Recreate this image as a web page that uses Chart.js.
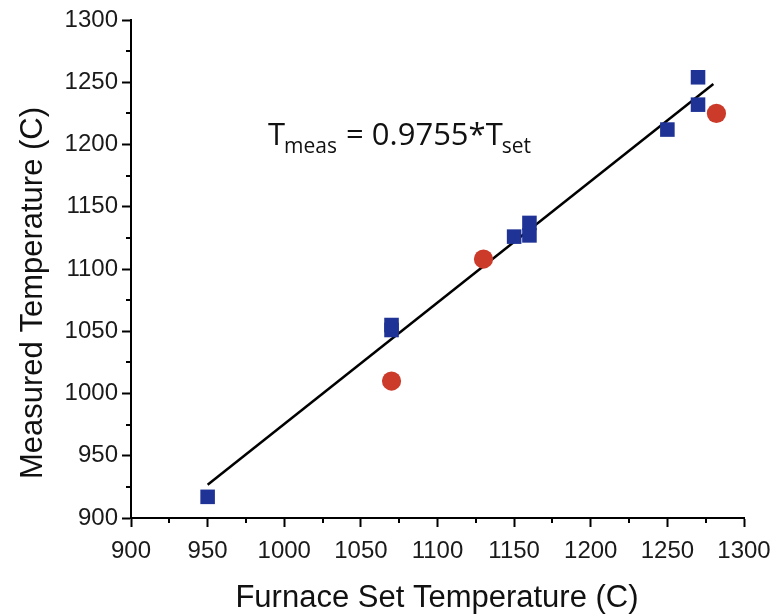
<!DOCTYPE html>
<html>
<head>
<meta charset="utf-8">
<script src="https://cdn.jsdelivr.net/npm/chart.js@4.4.0/dist/chart.umd.min.js"></script>
<style>
  html, body { margin: 0; padding: 0; background: #fff; }
  canvas { display: block; }
</style>
</head>
<body>
<canvas id="tempChart" width="775" height="616"></canvas>
<script>
// measured thermocouple readings vs furnace set point
const squareX = [950, 1070, 1070, 1150, 1160, 1160, 1250, 1270, 1270];
const squareY = [917, 1051, 1055, 1126, 1127, 1137, 1212, 1232, 1254];
const circleX = [1070, 1130, 1282];
const circleY = [1010, 1108, 1225];

// linear fit through the origin
const slope = 0.9755;
const fitX = [950, 1280];

const tickValues = [900, 950, 1000, 1050, 1100, 1150, 1200, 1250, 1300];

const toPoints = (xs, ys) => xs.map((x, i) => ({ x: x, y: ys[i] }));

const AXIS_FONT = '"Liberation Sans", Arial, sans-serif';

// short unlabelled ticks halfway between the major ones
const minorTicks = {
  id: 'minorTicks',
  afterDraw(chart) {
    const ctx = chart.ctx;
    const xs = chart.scales.x, ys = chart.scales.y;
    const area = chart.chartArea;
    ctx.save();
    ctx.strokeStyle = '#000';
    ctx.lineWidth = 2;
    ctx.beginPath();
    for (let i = 0; i < tickValues.length - 1; i++) {
      const v = (tickValues[i] + tickValues[i + 1]) / 2;
      const px = Math.round(xs.getPixelForValue(v));
      ctx.moveTo(px, area.bottom);
      ctx.lineTo(px, area.bottom + 5);
      const py = Math.round(ys.getPixelForValue(v));
      ctx.moveTo(area.left, py);
      ctx.lineTo(area.left - 5, py);
    }
    ctx.stroke();
    ctx.restore();
  }
};

// axis titles and the fit equation
const annotations = {
  id: 'annotations',
  afterDraw(chart) {
    const ctx = chart.ctx;
    ctx.save();
    ctx.fillStyle = '#111';
    ctx.font = '31px ' + AXIS_FONT;
    ctx.textAlign = 'center';
    ctx.textBaseline = 'alphabetic';
    ctx.fillText('Furnace Set Temperature (C)', 437, 607);

    ctx.save();
    ctx.translate(42, 293);
    ctx.rotate(-Math.PI / 2);
    ctx.fillText('Measured Temperature (C)', 0, 0);
    ctx.restore();

    const big = '31px "Open Sans", sans-serif';
    const small = '21px "Open Sans", sans-serif';
    const base = 145;
    let x = 268;
    ctx.textAlign = 'left';
    ctx.font = big;
    ctx.fillText('T', x, base);
    x += ctx.measureText('T').width - 1;
    ctx.font = small;
    ctx.fillText('meas', x, base + 8);
    x += ctx.measureText('meas').width + 1;
    ctx.font = big;
    const mid = ' = 0.9755*T';
    ctx.fillText(mid, x, base);
    x += ctx.measureText(mid).width - 1;
    ctx.font = small;
    ctx.fillText('set', x, base + 8);
    ctx.restore();
  }
};

const axisOptions = {
  type: 'linear',
  min: 900,
  max: 1300,
  afterBuildTicks: s => { s.ticks = tickValues.map(v => ({ value: v })); },
  border: { display: true, color: '#000', width: 2 },
  grid: {
    drawOnChartArea: false,
    drawTicks: true,
    tickLength: 9,
    tickWidth: 2,
    tickColor: '#000'
  },
  ticks: {
    color: '#1a1a1a',
    font: { family: AXIS_FONT, size: 24 },
    maxRotation: 0,
    callback: v => String(v)
  }
};

new Chart('tempChart', {
  type: 'scatter',
  data: {
    datasets: [
      {
        label: 'fit',
        type: 'line',
        data: fitX.map(x => ({ x: x, y: slope * x })),
        borderColor: '#000',
        borderWidth: 2.5,
        pointRadius: 0,
        fill: false,
        order: 3
      },
      {
        label: 'squares',
        data: toPoints(squareX, squareY),
        pointStyle: 'rect',
        pointRadius: 10.3,
        backgroundColor: '#1f3396',
        borderWidth: 0,
        order: 1
      },
      {
        label: 'circles',
        data: toPoints(circleX, circleY),
        pointStyle: 'circle',
        pointRadius: 9.6,
        backgroundColor: '#cc3a2a',
        borderWidth: 0,
        order: 2
      }
    ]
  },
  options: {
    responsive: false,
    devicePixelRatio: 1,
    animation: false,
    layout: { padding: { top: 20, right: 31, left: 0, bottom: 0 } },
    plugins: {
      legend: { display: false },
      tooltip: { enabled: false }
    },
    scales: {
      x: Object.assign({}, axisOptions, {
        position: 'bottom',
        ticks: Object.assign({}, axisOptions.ticks, { padding: 10 }),
        afterFit: s => {
          s.height = 98;
          s.paddingLeft = 0;
          s.paddingRight = 0;
        }
      }),
      y: Object.assign({}, axisOptions, {
        position: 'left',
        ticks: Object.assign({}, axisOptions.ticks, { padding: 4 }),
        afterFit: s => {
          s.width = 131;
          s.paddingTop = 0;
          s.paddingBottom = 0;
        }
      })
    }
  },
  plugins: [minorTicks, annotations]
});
</script>
</body>
</html>
